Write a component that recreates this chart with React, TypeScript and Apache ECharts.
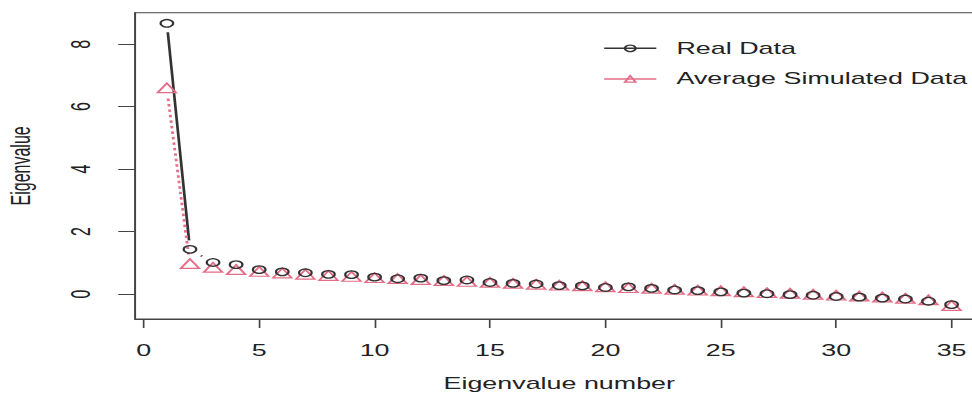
import React, { useEffect, useRef } from "react";
import * as echarts from "echarts";

const eigenNumbers = [
  1, 2, 3, 4, 5, 6, 7, 8, 9, 10, 11, 12, 13, 14, 15, 16, 17, 18, 19, 20,
  21, 22, 23, 24, 25, 26, 27, 28, 29, 30, 31, 32, 33, 34, 35,
];
const realData = [
  8.67, 1.43, 1.01, 0.94, 0.78, 0.71, 0.68, 0.63, 0.62, 0.54, 0.49, 0.51,
  0.43, 0.45, 0.37, 0.34, 0.32, 0.27, 0.26, 0.21, 0.23, 0.18, 0.13, 0.11,
  0.07, 0.03, 0.01, -0.02, -0.04, -0.08, -0.1, -0.13, -0.16, -0.23, -0.34,
];
const simulatedData = [
  6.55, 0.92, 0.8, 0.73, 0.67, 0.62, 0.58, 0.54, 0.51, 0.47, 0.44, 0.41,
  0.38, 0.35, 0.32, 0.29, 0.26, 0.23, 0.21, 0.18, 0.15, 0.13, 0.1, 0.07,
  0.05, 0.02, -0.01, -0.03, -0.06, -0.09, -0.12, -0.15, -0.19, -0.24, -0.42,
];
const xTickValues = [0, 5, 10, 15, 20, 25, 30, 35];
const yTickValues = [0, 2, 4, 6, 8];
const seriesNames = ["Real Data", "Average Simulated Data"];

const STRETCH = 1.68;
const CHART_W = 600;
const CHART_H = 395;
const REAL_COLOR = "#333333";
const SIM_COLOR = "#E46C86";
const FONT = "'Liberation Sans', Arial, sans-serif";

export default function App() {
  const ref = useRef<HTMLDivElement>(null);

  useEffect(() => {
    if (!ref.current) return;
    const chart = echarts.init(ref.current, null, {
      renderer: "svg",
      width: CHART_W,
      height: CHART_H,
    });
    const gap = 9;
    const empty = { type: "group", children: [] };
    const makeSegments = (
      ys: number[],
      color: string,
      width: number,
      dash: number[] | null
    ) => ({
      type: "custom",
      silent: true,
      z: 1,
      data: eigenNumbers.map((x, i) => [x, ys[i]]),
      encode: { x: 0, y: 1 },
      renderItem: (params: any, api: any) => {
        const i = params.dataIndex;
        if (i >= eigenNumbers.length - 1) return empty;
        const p0 = api.coord([eigenNumbers[i], ys[i]]);
        const p1 = api.coord([eigenNumbers[i + 1], ys[i + 1]]);
        const dx = p1[0] - p0[0];
        const dy = p1[1] - p0[1];
        const L = Math.hypot(dx, dy);
        if (L <= 2 * gap) return empty;
        const ux = dx / L;
        const uy = dy / L;
        return {
          type: "line",
          shape: {
            x1: p0[0] + ux * gap,
            y1: p0[1] + uy * gap,
            x2: p1[0] - ux * gap,
            y2: p1[1] - uy * gap,
          },
          style: {
            stroke: color,
            lineWidth: width,
            lineDash: dash || undefined,
          },
        };
      },
    });

    const legendBase = {
      orient: "vertical",
      left: 358.9,
      itemWidth: 31,
      itemHeight: 8,
      padding: 0,
      textStyle: {
        fontFamily: FONT,
        fontSize: 16,
        color: "#222",
        padding: [0, 0, 0, 7],
      },
    };

    chart.setOption({
      animation: false,
      backgroundColor: "#ffffff",
      grid: {
        left: 80.38,
        width: 505,
        top: 12.7,
        height: 306.3,
        outerBoundsMode: "none",
        containLabel: false,
        show: true,
        borderColor: "#444",
        borderWidth: 1,
        backgroundColor: "transparent",
      },
      legend: [
        {
          ...legendBase,
          top: 44.3 - 4,
          data: [
            {
              name: seriesNames[0],
              lineStyle: { color: REAL_COLOR, width: 1.5, opacity: 1, type: "solid" },
              itemStyle: { color: "rgba(0,0,0,0)", borderColor: REAL_COLOR, borderWidth: 1.3 },
            },
          ],
        },
        {
          ...legendBase,
          top: 75 - 4,
          data: [
            {
              name: seriesNames[1],
              lineStyle: { color: SIM_COLOR, width: 1.5, opacity: 1, type: "solid" },
              itemStyle: { color: "rgba(0,0,0,0)", borderColor: SIM_COLOR, borderWidth: 1.3 },
            },
          ],
        },
      ],
      xAxis: {
        type: "value",
        min: -0.38,
        max: 36.38,
        name: "Eigenvalue number",
        nameLocation: "middle",
        nameGap: 57,
        nameTextStyle: { fontFamily: FONT, fontSize: 16, color: "#222" },
        axisLine: { show: true, onZero: false, lineStyle: { color: "#444", width: 1 } },
        axisTick: {
          show: true,
          length: 9,
          customValues: xTickValues,
          lineStyle: { color: "#444", width: 1 },
        },
        axisLabel: {
          customValues: xTickValues,
          margin: 24,
          fontFamily: FONT,
          fontSize: 16,
          color: "#222",
        },
        splitLine: { show: false },
      },
      yAxis: {
        type: "value",
        min: -0.8,
        max: 9.01,
        name: "Eigenvalue",
        nameLocation: "middle",
        nameRotate: 90,
        nameGap: 60,
        nameTextStyle: { fontFamily: FONT, fontSize: 16, color: "#222" },
        axisLine: { show: true, onZero: false, lineStyle: { color: "#444", width: 1 } },
        axisTick: {
          show: true,
          length: 10,
          customValues: yTickValues,
          lineStyle: { color: "#444", width: 1 },
        },
        axisLabel: {
          customValues: yTickValues,
          rotate: 90,
          margin: 24,
          fontFamily: FONT,
          fontSize: 16,
          color: "#222",
        },
        splitLine: { show: false },
      },
      series: [
        makeSegments(realData, REAL_COLOR, 1.6, null),
        makeSegments(simulatedData, SIM_COLOR, 1.7, [2.5, 3]),
        {
          name: seriesNames[0],
          type: "line",
          z: 3,
          data: eigenNumbers.map((x, i) => [x, realData[i]]),
          symbol: "circle",
          symbolSize: 7.5,
          showSymbol: true,
          showAllSymbol: true,
          color: REAL_COLOR,
          lineStyle: { width: 0, opacity: 0 },
          itemStyle: {
            color: "rgba(0,0,0,0)",
            borderColor: REAL_COLOR,
            borderWidth: 1.3,
          },
        },
        {
          name: seriesNames[1],
          type: "line",
          z: 2,
          data: eigenNumbers.map((x, i) => [x, simulatedData[i]]),
          symbol: "triangle",
          symbolSize: [11, 9.5],
          symbolOffset: [0, -1.6],
          showSymbol: true,
          showAllSymbol: true,
          color: SIM_COLOR,
          lineStyle: { width: 0, opacity: 0 },
          itemStyle: {
            color: "rgba(0,0,0,0)",
            borderColor: SIM_COLOR,
            borderWidth: 1.3,
          },
        },
      ],
    });
    return () => chart.dispose();
  }, []);

  return (
    <div
      style={{
        position: "fixed",
        left: 0,
        top: 0,
        width: 972,
        height: 395,
        overflow: "hidden",
        background: "#fff",
      }}
    >
      <div
        ref={ref}
        style={{
          width: CHART_W,
          height: CHART_H,
          transform: `scaleX(${STRETCH})`,
          transformOrigin: "0 0",
        }}
      />
    </div>
  );
}
